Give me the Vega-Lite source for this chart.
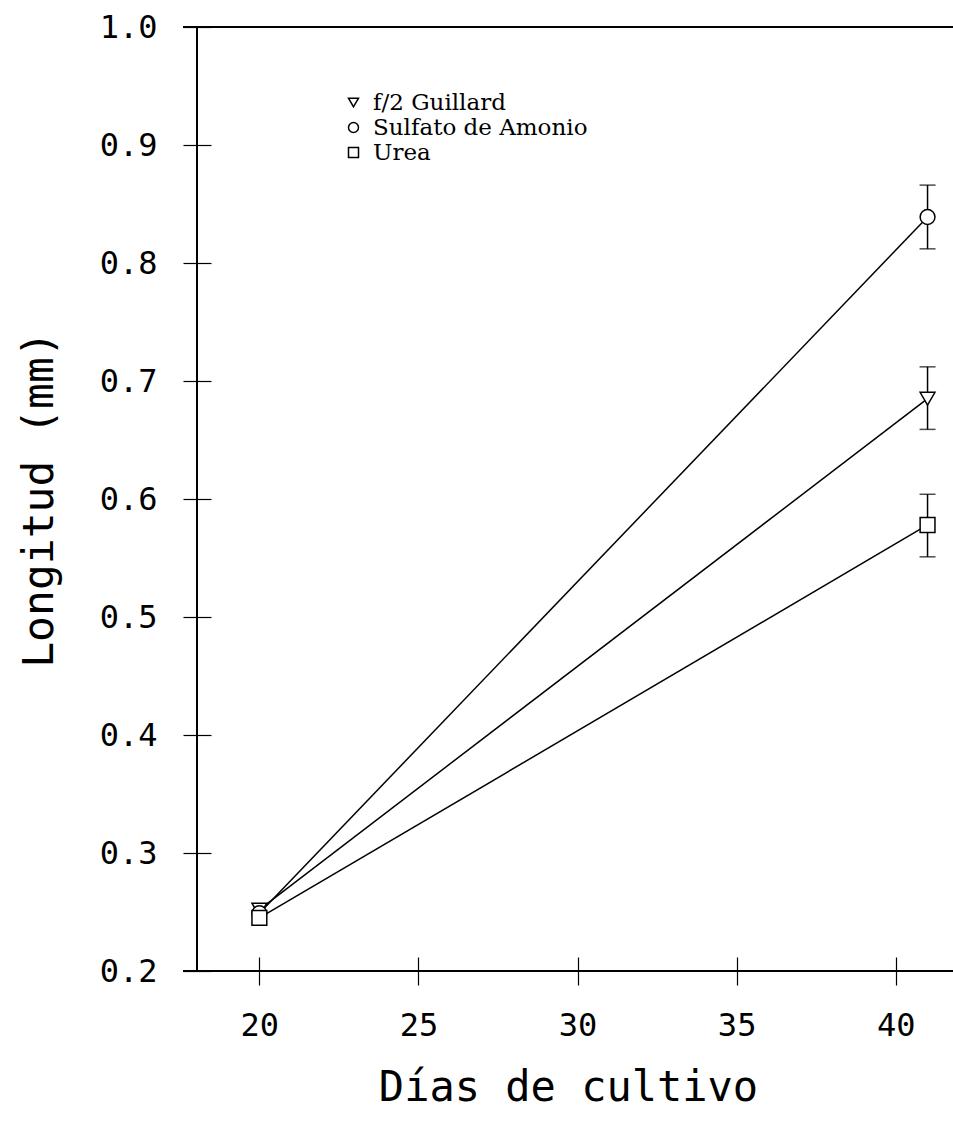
{
  "$schema": "https://vega.github.io/schema/vega-lite/v6.json",
  "width": 770,
  "height": 944,
  "autosize": "none",
  "padding": {"left": 183, "top": 27, "right": 0, "bottom": 153},
  "background": "white",
  "config": {
    "view": {"stroke": null},
    "axis": {"grid": false, "domainColor": "black", "tickColor": "black", "labelColor": "black", "titleColor": "black"}
  },
  "data": {
    "values": [
      {"serie": "f/2 Guillard", "dia": 20, "valor": 0.252},
      {"serie": "Sulfato de Amonio", "dia": 20, "valor": 0.249},
      {"serie": "Urea", "dia": 20, "valor": 0.245},
      {"serie": "f/2 Guillard", "dia": 41, "valor": 0.685, "inf": 0.659, "sup": 0.712},
      {"serie": "Sulfato de Amonio", "dia": 41, "valor": 0.839, "inf": 0.812, "sup": 0.866},
      {"serie": "Urea", "dia": 41, "valor": 0.578, "inf": 0.551, "sup": 0.604}
    ]
  },
  "layer": [
    {
      "mark": {"type": "line", "color": "black", "strokeWidth": 1.5},
      "encoding": {
        "x": {
          "field": "dia", "type": "quantitative",
          "scale": {"domain": [17.6, 41.8], "nice": false, "zero": false},
          "axis": {
            "title": "Días de cultivo", "orient": "bottom", "values": [20, 25, 30, 35, 40],
            "domain": false, "offset": -14, "tickSize": 28, "tickWidth": 1.2,
            "labelFont": "DejaVu Sans Mono", "labelFontSize": 32, "labelPadding": 25,
            "titleFont": "DejaVu Sans Mono", "titleFontSize": 42, "titleFontWeight": "normal", "titlePadding": 26
          }
        },
        "y": {
          "field": "valor", "type": "quantitative",
          "scale": {"domain": [0.2, 1.0], "nice": false, "zero": false},
          "axis": {
            "title": "Longitud (mm)", "orient": "left", "offset": -28,
            "values": [0.2, 0.3, 0.4, 0.5, 0.6, 0.7, 0.8, 0.9, 1.0], "format": ".1f",
            "domain": false, "tickSize": 28, "tickWidth": 1.2,
            "labelFont": "DejaVu Sans Mono", "labelFontSize": 32, "labelPadding": 26,
            "titleFont": "DejaVu Sans Mono", "titleFontSize": 43, "titleFontWeight": "normal", "titlePadding": 38
          }
        },
        "detail": {"field": "serie"}
      }
    },
    {
      "mark": {"type": "rule", "color": "black", "strokeWidth": 1.5},
      "encoding": {"y": {"datum": 1.0, "type": "quantitative"}}
    },
    {
      "mark": {"type": "rule", "color": "black", "strokeWidth": 1.5},
      "encoding": {"y": {"datum": 0.2, "type": "quantitative"}}
    },
    {
      "mark": {"type": "rule", "color": "black", "strokeWidth": 1.5},
      "encoding": {"x": {"datum": 18.04, "type": "quantitative"}}
    },
    {
      "transform": [{"filter": "datum.inf != null"}],
      "mark": {"type": "rule", "color": "black", "strokeWidth": 1.5},
      "encoding": {
        "x": {"field": "dia", "type": "quantitative"},
        "y": {"field": "inf", "type": "quantitative"},
        "y2": {"field": "sup"}
      }
    },
    {
      "transform": [{"filter": "datum.inf != null"}],
      "mark": {"type": "tick", "orient": "horizontal", "size": 16, "thickness": 1.5, "color": "black"},
      "encoding": {
        "x": {"field": "dia", "type": "quantitative"},
        "y": {"field": "inf", "type": "quantitative"}
      }
    },
    {
      "transform": [{"filter": "datum.sup != null"}],
      "mark": {"type": "tick", "orient": "horizontal", "size": 16, "thickness": 1.5, "color": "black"},
      "encoding": {
        "x": {"field": "dia", "type": "quantitative"},
        "y": {"field": "sup", "type": "quantitative"}
      }
    },
    {
      "mark": {"type": "point", "filled": true, "fill": "white", "stroke": "black", "strokeWidth": 1.5, "size": 220, "opacity": 1},
      "encoding": {
        "x": {"field": "dia", "type": "quantitative"},
        "y": {"field": "valor", "type": "quantitative"},
        "shape": {
          "field": "serie", "type": "nominal",
          "scale": {"domain": ["f/2 Guillard", "Sulfato de Amonio", "Urea"], "range": ["triangle-down", "circle", "square"]},
          "legend": {
            "title": null, "orient": "none", "legendX": 159, "legendY": 64,
            "labelFont": "DejaVu Serif", "labelFontSize": 23, "labelColor": "black", "labelOffset": 8, "labelLimit": 500, "rowPadding": 1
          }
        }
      }
    }
  ]
}
